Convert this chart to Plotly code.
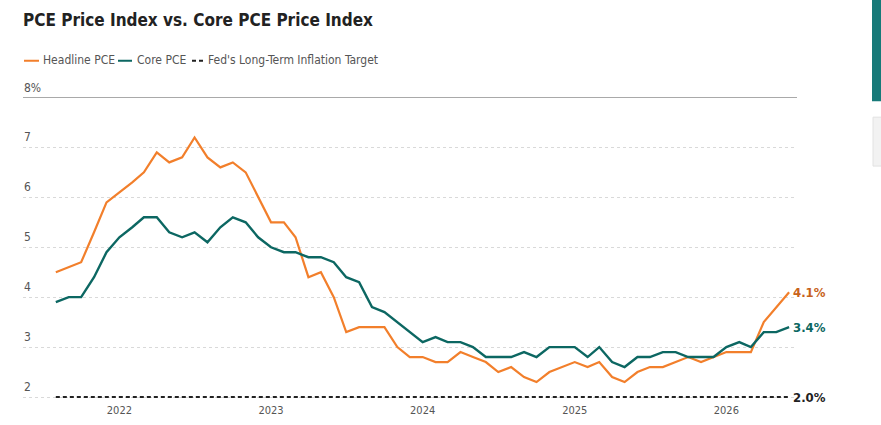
import plotly.graph_objects as go

# ---------------- data ----------------
start_year, start_month, n_months = 2021, 8, 59
dates = []
yy, mm = start_year, start_month
for _ in range(n_months):
    dates.append(f"{yy}-{mm:02d}-01")
    mm += 1
    if mm > 12:
        mm = 1
        yy += 1

headline_pce = [4.5, 4.6, 4.7, 5.3, 5.9, 6.1, 6.3, 6.5, 6.9, 6.7,
                6.8, 7.2, 6.8, 6.6, 6.7, 6.5, 6.0, 5.5, 5.5, 5.2,
                4.4, 4.5, 4.0, 3.3, 3.4, 3.4, 3.4, 3.0, 2.8, 2.8,
                2.7, 2.7, 2.9, 2.8, 2.7, 2.5, 2.6, 2.4, 2.3, 2.5,
                2.6, 2.7, 2.6, 2.7, 2.4, 2.3, 2.5, 2.6, 2.6, 2.7,
                2.8, 2.7, 2.8, 2.9, 2.9, 2.9, 3.5, 3.8, 4.1]
core_pce = [3.9, 4.0, 4.0, 4.4, 4.9, 5.2, 5.4, 5.6, 5.6, 5.3,
            5.2, 5.3, 5.1, 5.4, 5.6, 5.5, 5.2, 5.0, 4.9, 4.9,
            4.8, 4.8, 4.7, 4.4, 4.3, 3.8, 3.7, 3.5, 3.3, 3.1,
            3.2, 3.1, 3.1, 3.0, 2.8, 2.8, 2.8, 2.9, 2.8, 3.0,
            3.0, 3.0, 2.8, 3.0, 2.7, 2.6, 2.8, 2.8, 2.9, 2.9,
            2.8, 2.8, 2.8, 3.0, 3.1, 3.0, 3.3, 3.3, 3.4]
fed_target = [2.0] * n_months

series_names = ["Headline PCE", "Core PCE", "Fed's Long-Term Inflation Target"]
year_ticks = ["2022-01-01", "2023-01-01", "2024-01-01", "2025-01-01", "2026-01-01"]
year_labels = ["2022", "2023", "2024", "2025", "2026"]
y_ticks = [2, 3, 4, 5, 6, 7, 8]
y_tick_labels = ["2", "3", "4", "5", "6", "7", "8%"]

title_text = "PCE Price Index vs. Core PCE Price Index"

# ---------------- style ----------------
ORANGE = "#f27f2b"
ORANGE_LBL = "#c8621a"
TEAL = "#0c6762"
BLACK = "#222222"
GREY_TXT = "#555555"
FONT = "DejaVu Sans Condensed"

W, H = 881, 425
L, R, T, B = 23, 84, 94.8, 22.7


def pxx(x):
    return (x - L) / (W - L - R)


def pxy(y):
    return (H - B - y) / (H - T - B)


fig = go.Figure()
fig.add_trace(go.Scatter(x=dates, y=fed_target, mode="lines", name=series_names[2],
                         line=dict(color=BLACK, width=2, dash="4px,3px"), hoverinfo="skip"))
fig.add_trace(go.Scatter(x=dates, y=headline_pce, mode="lines", name=series_names[0],
                         line=dict(color=ORANGE, width=2.2), hoverinfo="skip"))
fig.add_trace(go.Scatter(x=dates, y=core_pce, mode="lines", name=series_names[1],
                         line=dict(color=TEAL, width=2.4), hoverinfo="skip"))

annotations = []
shapes = []

# y tick labels above grid lines
for v, t in zip(y_ticks, y_tick_labels):
    annotations.append(dict(x=0, xref="paper", y=v, yref="y", text=t, showarrow=False,
                            xanchor="left", yanchor="bottom", yshift=1, xshift=-1,
                            font=dict(family=FONT, size=12, color=GREY_TXT)))

# end labels
for vals, col in [(headline_pce, ORANGE_LBL), (core_pce, TEAL), (fed_target, BLACK)]:
    annotations.append(dict(x=dates[-1], y=vals[-1], text=f"<b>{vals[-1]:.1f}%</b>",
                            showarrow=False, xanchor="left", yanchor="middle", xshift=2,
                            font=dict(family=FONT, size=13, color=col)))

# top solid line at 8%
shapes.append(dict(type="line", xref="paper", yref="y", x0=0, x1=1, y0=8, y1=8,
                   line=dict(color="#a9a9a9", width=1)))

# manual legend
leg_y = pxy(60.5)
legend_items = [
    (24, 39, 43, series_names[0], dict(color=ORANGE, width=2)),
    (118, 132, 137, series_names[1], dict(color=TEAL, width=2)),
    (192, 204, 208, series_names[2], dict(color=BLACK, width=2, dash="4px,3px")),
]
for x0, x1, tx, name, ln in legend_items:
    shapes.append(dict(type="line", xref="paper", yref="paper", x0=pxx(x0), x1=pxx(x1),
                       y0=leg_y, y1=leg_y, line=ln))
    annotations.append(dict(x=pxx(tx), xref="paper", y=leg_y, yref="paper", text=name,
                            showarrow=False, xanchor="left", yanchor="middle", xshift=-2,
                            yshift=1,
                            font=dict(family=FONT, size=12, color=GREY_TXT)))

# page side elements
shapes.append(dict(type="rect", xref="paper", yref="paper", x0=pxx(872), x1=pxx(882),
                   y0=pxy(101), y1=pxy(-1), line=dict(width=0), fillcolor="#177a79"))
shapes.append(dict(type="rect", xref="paper", yref="paper", x0=pxx(873), x1=pxx(884),
                   y0=pxy(166), y1=pxy(117), line=dict(width=1, color="#e2e2e2"),
                   fillcolor="#f2f2f2"))

fig.update_layout(
    width=W, height=H,
    margin=dict(l=L, r=R, t=T, b=B, pad=0),
    paper_bgcolor="white", plot_bgcolor="white",
    showlegend=False,
    hovermode=False,
    title=dict(text=f"<b>{title_text}</b>", x=23 / W, xanchor="left", xref="container",
               y=1 - 20.5 / H, yanchor="middle", yref="container",
               font=dict(family=FONT, size=17, color="#222222")),
    xaxis=dict(type="date", range=["2021-05-14", "2026-06-20"], automargin=False,
               tickvals=year_ticks, ticktext=year_labels, showgrid=False,
               zeroline=False, showline=False, ticks="",
               tickfont=dict(family=FONT, size=11, color=GREY_TXT)),
    yaxis=dict(range=[1.9, 8.05], tickvals=y_ticks[:-1], showticklabels=False,
               automargin=False,
               showgrid=True, gridcolor="#d9d9d9", griddash="3px,3px", gridwidth=1,
               zeroline=False, showline=False, ticks=""),
    annotations=annotations,
    shapes=shapes,
)

fig.write_html("out.html")
